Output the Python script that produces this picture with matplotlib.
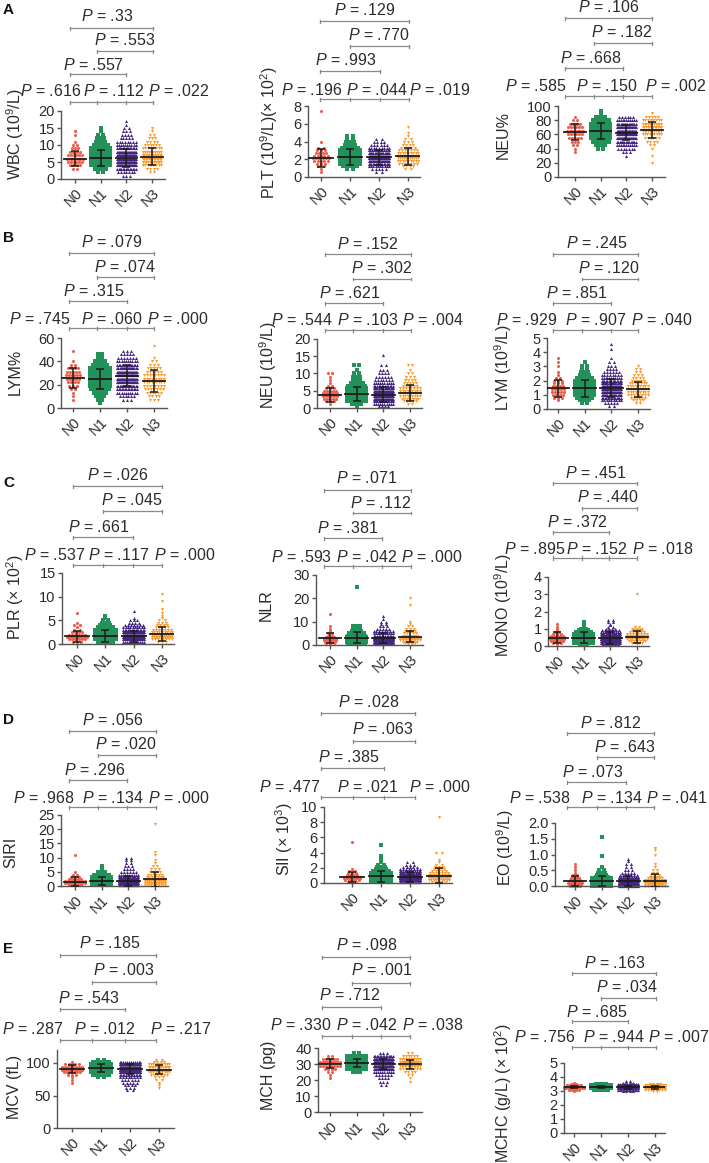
import numpy as np
import matplotlib.pyplot as plt

plt.rcParams['font.family'] = ['Liberation Sans', 'DejaVu Sans']
plt.rcParams['mathtext.fontset'] = 'custom'
plt.rcParams['mathtext.rm'] = 'Liberation Sans'
plt.rcParams['mathtext.it'] = 'Liberation Sans:italic'

W, H = 709, 1163

groups = ['N0', 'N1', 'N2', 'N3']
colors = ['#ee5e4b', '#23925a', '#45267f', '#f99b2f']
markers = ['o', 's', '^', 'v']

# ---- data: value levels and number of dots per level ----
wbc_lv = [1, 2, 3, 4, 5, 6, 7, 8, 9, 10, 11, 12, 13, 14, 15, 16, 17]
wbc_n0 = [0, 0, 2, 4, 6, 7, 6, 4, 3, 2, 1, 0, 1, 1, 0, 0, 0]
wbc_n1 = [0, 2, 5, 9, 14, 16, 14, 10, 8, 6, 4, 3, 2, 1, 1, 0, 0]
wbc_n2 = [3, 7, 14, 22, 28, 30, 26, 20, 14, 10, 8, 5, 4, 3, 2, 1, 1]
wbc_n3 = [0, 2, 4, 8, 11, 13, 12, 10, 8, 6, 4, 3, 2, 1, 1, 0, 0]
wbc_mean = [6.0, 6.2, 6.1, 6.6]
wbc_sd = [2.3, 2.3, 2.7, 2.5]
wbc_p = ['.33', '.553', '.557', '.616', '.112', '.022']

plt_lv = [0.6, 0.9, 1.2, 1.5, 1.8, 2.1, 2.4, 2.7, 3.0, 3.3, 3.6, 4.0, 4.3, 4.6, 5.0, 5.6, 7.4]
plt_n0 = [1, 1, 2, 3, 5, 6, 5, 4, 3, 2, 0, 1, 0, 0, 0, 0, 1]
plt_n1 = [0, 2, 5, 8, 11, 13, 12, 10, 8, 6, 4, 3, 2, 2, 0, 0, 0]
plt_n2 = [2, 5, 10, 16, 22, 24, 22, 18, 13, 9, 6, 4, 2, 0, 0, 0, 0]
plt_n3 = [0, 2, 4, 7, 9, 11, 10, 9, 7, 5, 4, 3, 2, 1, 1, 1, 0]
plt_mean = [2.15, 2.3, 2.2, 2.35]
plt_sd = [1.0, 0.9, 0.85, 0.95]
plt_p = ['.129', '.770', '.993', '.196', '.044', '.019']

neup_lv = [20, 25, 30, 35, 40, 45, 50, 55, 60, 65, 70, 75, 80, 85, 90, 93]
neup_n0 = [0, 0, 0, 1, 1, 2, 3, 5, 6, 7, 6, 4, 2, 1, 0, 0]
neup_n1 = [0, 0, 0, 0, 2, 4, 7, 10, 13, 14, 13, 10, 7, 4, 1, 1]
neup_n2 = [0, 0, 1, 3, 7, 11, 16, 21, 24, 25, 22, 17, 11, 6, 0, 0]
neup_n3 = [1, 0, 1, 0, 1, 2, 4, 6, 9, 11, 12, 11, 8, 5, 1, 0]
neup_mean = [63.5, 64.5, 62.5, 66.5]
neup_sd = [11, 11, 10.5, 11]
neup_p = ['.106', '.182', '.668', '.585', '.150', '.002']

lymp_lv = [4, 7, 10, 13, 16, 19, 22, 25, 28, 31, 34, 37, 40, 43, 46, 49, 53]
lymp_n0 = [0, 1, 1, 1, 2, 3, 4, 5, 6, 5, 4, 2, 1, 0, 0, 1, 0]
lymp_n1 = [1, 2, 3, 5, 7, 9, 11, 12, 11, 10, 8, 6, 4, 2, 2, 0, 0]
lymp_n2 = [0, 3, 6, 10, 14, 18, 22, 24, 24, 22, 18, 14, 10, 7, 5, 3, 0]
lymp_n3 = [0, 3, 4, 6, 7, 8, 9, 9, 8, 6, 5, 3, 2, 1, 0, 0, 1]
lymp_mean = [25.7, 25.0, 27.5, 23.2]
lymp_sd = [8.5, 8.8, 9.0, 9.3]
lymp_p = ['.079', '.074', '.315', '.745', '.060', '.000']

neu_lv = [0.5, 1.25, 2, 2.75, 3.5, 4.25, 5, 5.75, 6.5, 7.25, 8, 9, 10, 11, 12.5, 15.5]
neu_n0 = [0, 1, 3, 5, 6, 6, 5, 3, 2, 1, 1, 1, 2, 0, 0, 0]
neu_n1 = [1, 4, 8, 11, 13, 13, 11, 9, 7, 5, 3, 3, 2, 1, 2, 0]
neu_n2 = [4, 10, 17, 22, 25, 24, 21, 17, 13, 10, 7, 6, 4, 3, 2, 1]
neu_n3 = [0, 2, 5, 7, 9, 10, 9, 8, 6, 5, 4, 3, 2, 1, 2, 0]
neu_mean = [3.8, 4.1, 3.9, 4.3]
neu_sd = [2.0, 2.1, 2.2, 2.3]
neu_p = ['.152', '.302', '.621', '.544', '.103', '.004']

lym_lv = [0.2, 0.4, 0.6, 0.8, 1.0, 1.2, 1.4, 1.6, 1.8, 2.0, 2.2, 2.4, 2.6, 2.8, 3.0, 3.3, 3.6, 4.2, 4.6]
lym_n0 = [0, 0, 1, 3, 4, 5, 5, 4, 3, 3, 2, 1, 1, 0, 1, 1, 1, 0, 0]
lym_n1 = [0, 2, 4, 6, 8, 10, 11, 11, 10, 8, 6, 4, 3, 2, 2, 1, 0, 0, 0]
lym_n2 = [2, 5, 9, 14, 18, 21, 22, 21, 18, 15, 11, 8, 6, 4, 3, 2, 1, 1, 1]
lym_n3 = [0, 2, 4, 6, 8, 9, 10, 9, 7, 5, 4, 3, 2, 2, 1, 0, 0, 0, 0]
lym_mean = [1.45, 1.45, 1.47, 1.38]
lym_sd = [0.62, 0.6, 0.62, 0.52]
lym_p = ['.245', '.120', '.851', '.929', '.907', '.040']

plr_lv = [0.5, 1.0, 1.5, 2.0, 2.5, 3.0, 3.5, 4.0, 4.5, 5.0, 5.5, 6.0, 6.5, 7.0, 7.5, 9.0, 10.5]
plr_n0 = [3, 6, 8, 6, 4, 2, 1, 2, 1, 0, 0, 0, 1, 0, 0, 0, 0]
plr_n1 = [6, 14, 18, 16, 12, 8, 6, 4, 3, 2, 1, 1, 0, 0, 0, 0, 0]
plr_n2 = [12, 28, 36, 32, 24, 16, 10, 7, 4, 3, 1, 0, 0, 1, 0, 0, 0]
plr_n3 = [3, 8, 12, 11, 9, 7, 5, 4, 3, 2, 1, 1, 1, 0, 1, 1, 1]
plr_mean = [1.6, 1.75, 1.6, 2.05]
plr_sd = [1.15, 1.25, 1.25, 1.45]
plr_p = ['.026', '.045', '.661', '.537', '.117', '.000']

nlr_lv = [0.5, 1, 1.5, 2, 2.5, 3, 3.5, 4, 5, 6, 7, 8, 9, 10, 11, 12.5, 13.5, 17, 20, 25]
nlr_n0 = [1, 3, 4, 5, 5, 4, 3, 2, 2, 1, 1, 1, 0, 0, 0, 0, 1, 0, 0, 0]
nlr_n1 = [3, 7, 10, 12, 12, 10, 8, 7, 6, 4, 3, 3, 0, 0, 0, 0, 0, 0, 0, 1]
nlr_n2 = [6, 14, 20, 24, 24, 20, 16, 13, 11, 8, 5, 3, 2, 2, 1, 1, 0, 0, 0, 0]
nlr_n3 = [2, 4, 6, 8, 9, 8, 7, 6, 5, 4, 3, 2, 1, 1, 0, 0, 0, 1, 1, 0]
nlr_mean = [2.9, 3.1, 2.9, 3.6]
nlr_sd = [2.1, 2.3, 2.1, 2.5]
nlr_p = ['.071', '.112', '.381', '.593', '.042', '.000']

mono_lv = [0.1, 0.2, 0.3, 0.4, 0.5, 0.6, 0.7, 0.8, 0.9, 1.0, 1.1, 1.2, 1.3, 1.4, 1.5, 3.0]
mono_n0 = [1, 3, 5, 6, 6, 5, 3, 2, 1, 1, 1, 0, 1, 0, 0, 0]
mono_n1 = [3, 8, 12, 14, 14, 12, 9, 6, 4, 2, 1, 1, 1, 1, 0, 0]
mono_n2 = [6, 16, 24, 28, 28, 24, 17, 11, 7, 4, 2, 1, 1, 2, 2, 0]
mono_n3 = [1, 4, 7, 9, 10, 9, 8, 6, 4, 3, 2, 0, 0, 0, 0, 1]
mono_mean = [0.47, 0.48, 0.46, 0.52]
mono_sd = [0.32, 0.31, 0.33, 0.35]
mono_p = ['.451', '.440', '.372', '.895', '.152', '.018']

siri_lv = [0.5, 1.2, 1.9, 2.6, 3.3, 4, 5, 6, 7, 8, 9, 10, 11, 12, 22]
siri_n0 = [5, 9, 8, 5, 3, 2, 1, 0, 0, 0, 0, 0, 1, 0, 0]
siri_n1 = [14, 22, 18, 13, 9, 6, 3, 1, 1, 0, 0, 0, 0, 0, 0]
siri_n2 = [28, 40, 34, 24, 16, 10, 6, 4, 3, 2, 2, 2, 0, 0, 0]
siri_n3 = [8, 12, 11, 9, 7, 6, 4, 3, 2, 1, 1, 0, 1, 1, 1]
siri_mean = [1.5, 1.7, 1.75, 2.4]
siri_sd = [1.6, 1.5, 1.7, 2.6]
siri_p = ['.056', '.020', '.296', '.968', '.134', '.000']

sii_lv = [0.1, 0.35, 0.6, 0.85, 1.1, 1.35, 1.6, 1.85, 2.1, 2.4, 2.7, 3.0, 3.6, 3.9, 5.0, 5.4, 8.7]
sii_n0 = [3, 5, 6, 6, 4, 3, 2, 1, 0, 0, 0, 0, 0, 0, 0, 1, 0]
sii_n1 = [8, 14, 16, 15, 12, 9, 6, 4, 3, 2, 1, 1, 1, 0, 1, 0, 0]
sii_n2 = [16, 28, 34, 32, 26, 18, 12, 8, 5, 3, 2, 0, 0, 0, 0, 0, 0]
sii_n3 = [5, 9, 11, 11, 9, 7, 5, 4, 3, 2, 1, 1, 0, 2, 0, 0, 1]
sii_mean = [0.8, 0.88, 0.8, 0.98]
sii_sd = [0.65, 0.72, 0.62, 0.95]
sii_p = ['.028', '.063', '.385', '.477', '.021', '.000']

eo_lv = [0.0, 0.05, 0.1, 0.15, 0.2, 0.25, 0.3, 0.35, 0.4, 0.5, 0.6, 0.7, 0.8, 0.85, 0.95, 1.0, 1.15, 1.2, 1.55]
eo_n0 = [4, 5, 6, 5, 4, 3, 2, 2, 1, 1, 1, 1, 0, 0, 0, 0, 0, 0, 0]
eo_n1 = [12, 14, 15, 13, 10, 8, 5, 4, 3, 2, 1, 0, 0, 0, 1, 0, 0, 0, 1]
eo_n2 = [22, 28, 30, 26, 21, 15, 10, 7, 5, 3, 2, 2, 1, 1, 0, 0, 0, 0, 0]
eo_n3 = [8, 10, 11, 10, 8, 6, 4, 3, 2, 2, 1, 1, 0, 0, 0, 1, 1, 1, 0]
eo_mean = [0.16, 0.16, 0.16, 0.17]
eo_sd = [0.15, 0.16, 0.16, 0.2]
eo_p = ['.812', '.643', '.073', '.538', '.134', '.041']

mcv_lv = [58, 62, 66, 70, 74, 78, 82, 86, 90, 94, 98, 102, 105]
mcv_n0 = [0, 0, 0, 1, 1, 1, 3, 6, 9, 8, 5, 1, 0]
mcv_n1 = [0, 0, 0, 0, 0, 2, 6, 14, 22, 24, 16, 6, 2]
mcv_n2 = [2, 3, 4, 5, 6, 8, 14, 24, 32, 34, 26, 12, 0]
mcv_n3 = [0, 1, 1, 1, 2, 3, 6, 10, 14, 14, 10, 4, 2]
mcv_mean = [90.8, 92.3, 90.5, 89.8]
mcv_sd = [6.8, 6.0, 7.5, 6.8]
mcv_p = ['.185', '.003', '.543', '.287', '.012', '.217']

mch_lv = [17, 19, 21, 23, 25, 27, 29, 31, 33, 35, 37]
mch_n0 = [0, 0, 1, 1, 2, 4, 8, 10, 6, 2, 0]
mch_n1 = [0, 0, 0, 0, 3, 8, 18, 26, 22, 12, 2]
mch_n2 = [2, 3, 4, 6, 10, 20, 36, 44, 32, 14, 3]
mch_n3 = [0, 1, 1, 2, 4, 8, 14, 18, 12, 6, 2]
mch_mean = [30.3, 30.6, 29.8, 29.7]
mch_sd = [2.8, 2.4, 3.2, 3.0]
mch_p = ['.098', '.001', '.712', '.330', '.042', '.038']

mchc_lv = [3.0, 3.1, 3.2, 3.3, 3.4, 3.5, 3.6, 3.7]
mchc_n0 = [1, 4, 10, 12, 6, 2, 1, 0]
mchc_n1 = [0, 6, 24, 38, 18, 4, 0, 0]
mchc_n2 = [4, 14, 44, 60, 34, 12, 4, 2]
mchc_n3 = [2, 8, 18, 24, 12, 4, 0, 0]
mchc_mean = [3.28, 3.27, 3.27, 3.26]
mchc_sd = [0.1, 0.08, 0.11, 0.1]
mchc_p = ['.163', '.034', '.685', '.756', '.944', '.007']

# ---- layout (pixel positions in the 709x1163 picture) ----
# box = (left, top, right, bottom) of the plotting area, groups = x of N0 and N3
# brk = x of bracket anchors, lines = y of the 4 bracket rows
# txt = (x, y) of the 3 upper P values, bot = (x1, x2, x3, y) of the lower row
panels = [
    dict(lv=wbc_lv, cnt=[wbc_n0, wbc_n1, wbc_n2, wbc_n3], mean=wbc_mean, sd=wbc_sd, p=wbc_p,
         ylabel='WBC (10$^9$/L)', yt=[0, 5, 10, 15, 20], box=(61, 111, 165, 179), groups=(75, 152),
         brk=(70, 97, 126, 153), lines=(28, 51, 74, 102), txt=((107, 16), (125, 40), (94, 65)),
         bot=(51, 114, 179, 91), lab=(15, 134)),
    dict(lv=plt_lv, cnt=[plt_n0, plt_n1, plt_n2, plt_n3], mean=plt_mean, sd=plt_sd, p=plt_p,
         ylabel='PLT (10$^9$/L)(× 10$^2$)', yt=[0, 2, 4, 6, 8], box=(308, 106, 420, 177), groups=(321, 408),
         brk=(320, 350, 380, 409), lines=(21, 46, 71, 99), txt=((365, 10), (379, 35), (346, 60)),
         bot=(312, 377, 440, 90), lab=(269, 133)),
    dict(lv=neup_lv, cnt=[neup_n0, neup_n1, neup_n2, neup_n3], mean=neup_mean, sd=neup_sd, p=neup_p,
         ylabel='NEU%', yt=[0, 20, 40, 60, 80, 100], box=(558, 106, 665, 177), groups=(575, 652),
         brk=(565, 594, 623, 652), lines=(18, 43, 68, 96), txt=((609, 7), (622, 32), (591, 58)),
         bot=(536, 607, 676, 86), lab=(503, 135)),
    dict(lv=lymp_lv, cnt=[lymp_n0, lymp_n1, lymp_n2, lymp_n3], mean=lymp_mean, sd=lymp_sd, p=lymp_p,
         ylabel='LYM%', yt=[0, 20, 40, 60], box=(61, 338, 167, 408), groups=(73, 154),
         brk=(69, 97, 127, 154), lines=(253, 277, 301, 328), txt=((112, 242), (125, 267), (94, 291)),
         bot=(40, 112, 178, 319), lab=(15, 372)),
    dict(lv=neu_lv, cnt=[neu_n0, neu_n1, neu_n2, neu_n3], mean=neu_mean, sd=neu_sd, p=neu_p,
         ylabel='NEU (10$^9$/L)', yt=[0, 5, 10, 15, 20], box=(317, 339, 422, 408), groups=(330, 410),
         brk=(325, 353, 383, 411), lines=(254, 279, 303, 330), txt=((368, 244), (382, 268), (350, 293)),
         bot=(302, 368, 433, 320), lab=(268, 365)),
    dict(lv=lym_lv, cnt=[lym_n0, lym_n1, lym_n2, lym_n3], mean=lym_mean, sd=lym_sd, p=lym_p,
         ylabel='LYM (10$^9$/L)', yt=[0, 1, 2, 3, 4, 5], box=(547, 338, 650, 409), groups=(558, 638),
         brk=(553, 582, 611, 638), lines=(254, 279, 303, 330), txt=((597, 243), (609, 268), (577, 293)),
         bot=(527, 596, 662, 320), lab=(503, 367)),
    dict(lv=plr_lv, cnt=[plr_n0, plr_n1, plr_n2, plr_n3], mean=plr_mean, sd=plr_sd, p=plr_p,
         ylabel='PLR (× 10$^2$)', yt=[0, 5, 10, 15], box=(62, 573, 174, 644), groups=(77, 162),
         brk=(73, 103, 133, 162), lines=(486, 511, 537, 565), txt=((118, 475), (132, 500), (99, 527)),
         bot=(55, 119, 185, 555), lab=(15, 597)),
    dict(lv=nlr_lv, cnt=[nlr_n0, nlr_n1, nlr_n2, nlr_n3], mean=nlr_mean, sd=nlr_sd, p=nlr_p,
         ylabel='NLR', yt=[0, 10, 20, 30], box=(316, 575, 423, 645), groups=(330, 410),
         brk=(324, 353, 382, 411), lines=(490, 513, 538, 566), txt=((367, 478), (381, 503), (348, 528)),
         bot=(302, 367, 432, 557), lab=(266, 605)),
    dict(lv=mono_lv, cnt=[mono_n0, mono_n1, mono_n2, mono_n3], mean=mono_mean, sd=mono_sd, p=mono_p,
         ylabel='MONO (10$^9$/L)', yt=[0, 1, 2, 3, 4], box=(548, 577, 649, 646), groups=(557, 637),
         brk=(553, 582, 609, 637), lines=(483, 508, 532, 558), txt=((596, 473), (608, 497), (577, 522)),
         bot=(535, 597, 663, 549), lab=(503, 605)),
    dict(lv=siri_lv, cnt=[siri_n0, siri_n1, siri_n2, siri_n3], mean=siri_mean, sd=siri_sd, p=siri_p,
         ylabel='SIRI', yt=[0, 5, 10, 15, 20, 25], box=(61, 815, 168, 886), groups=(75, 155),
         brk=(69, 98, 127, 156), lines=(731, 755, 780, 807), txt=((113, 720), (126, 744), (95, 770)),
         bot=(44, 113, 179, 798), lab=(11, 852)),
    dict(lv=sii_lv, cnt=[sii_n0, sii_n1, sii_n2, sii_n3], mean=sii_mean, sd=sii_sd, p=sii_p,
         ylabel='SII (× 10$^3$)', yt=[0, 2, 4, 6, 8, 10], box=(324, 807, 452, 883), groups=(352, 439),
         brk=(321, 353, 384, 415), lines=(713, 741, 768, 797), txt=((369, 702), (383, 729), (349, 757)),
         bot=(290, 368, 440, 787), lab=(284, 839)),
    dict(lv=eo_lv, cnt=[eo_n0, eo_n1, eo_n2, eo_n3], mean=eo_mean, sd=eo_sd, p=eo_p,
         ylabel='EO (10$^9$/L)', yt=[0.0, 0.5, 1.0, 1.5, 2.0], box=(555, 823, 668, 886), groups=(575, 655),
         brk=(567, 597, 626, 654), lines=(733, 757, 782, 807), txt=((611, 723), (625, 747), (593, 772)),
         bot=(540, 612, 677, 798), lab=(505, 847), fmt='%.1f'),
    dict(lv=mcv_lv, cnt=[mcv_n0, mcv_n1, mcv_n2, mcv_n3], mean=mcv_mean, sd=mcv_sd, p=mcv_p,
         ylabel='MCV (fL)', yt=[0, 50, 100], ytop=120, box=(57, 1050, 174, 1128), groups=(72, 159),
         brk=(60, 92, 125, 156), lines=(955, 982, 1009, 1040), txt=((110, 943), (124, 970), (89, 998)),
         bot=(33, 105, 181, 1029), lab=(15, 1087)),
    dict(lv=mch_lv, cnt=[mch_n0, mch_n1, mch_n2, mch_n3], mean=mch_mean, sd=mch_sd, p=mch_p,
         ylabel='MCH (pg)', yt=[0, 10, 20, 30, 40], box=(318, 1048, 422, 1112), groups=(330, 410),
         brk=(322, 352, 381, 410), lines=(957, 983, 1007, 1036), txt=((367, 945), (382, 970), (350, 995)),
         bot=(301, 367, 433, 1025), lab=(268, 1075)),
    dict(lv=mchc_lv, cnt=[mchc_n0, mchc_n1, mchc_n2, mchc_n3], mean=mchc_mean, sd=mchc_sd, p=mchc_p,
         ylabel='MCHC (g/L) (× 10$^2$)', yt=[0, 1, 2, 3, 4, 5], box=(564, 1063, 665, 1133), groups=(574, 655),
         brk=(572, 601, 628, 656), lines=(973, 998, 1021, 1047), txt=((615, 963), (627, 987), (597, 1012)),
         bot=(545, 614, 679, 1037), lab=(503, 1093)),
]

letters = [('A', 10), ('B', 238), ('C', 483), ('D', 720), ('E', 949)]


def fx(px):
    return px / W


def fy(py):
    return 1 - py / H


fig = plt.figure(figsize=(W / 100, H / 100), dpi=100)

txt_col = '#2b2b2b'
brk_col = '#8a8a8a'
P_SIZE = 11.5

for pan in panels:
    x0, yt, x1, yb = pan['box']
    g0, g3 = pan['groups']
    step = (g3 - g0) / 3
    ax = fig.add_axes([fx(x0), fy(yb), (x1 - x0) / W, (yb - yt) / H])
    ax.set_xlim((x0 - g0) / step, (x1 - g0) / step)
    ax.set_ylim(0, pan.get('ytop', pan['yt'][-1]))

    for i in range(4):
        xs, ys = [], []
        for v, c in zip(pan['lv'], pan['cnt'][i]):
            if c == 0:
                continue
            w = min(c * 0.09, 0.72)
            off = np.linspace(-w / 2, w / 2, c) if c > 1 else np.array([0.0])
            xs.extend(i + off)
            ys.extend([v] * c)
        ax.scatter(xs, ys, s=5, marker=markers[i], color=colors[i], linewidths=0,
                   clip_on=False, zorder=2)
        m, s = pan['mean'][i], pan['sd'][i]
        ax.plot([i - 0.42, i + 0.42], [m, m], color='#1c1c1c', lw=1.3, zorder=3)
        ax.errorbar(i, m, yerr=s, color='#1c1c1c', lw=1.1, capsize=3.2, capthick=1.1, zorder=3)

    for side in ['top', 'right']:
        ax.spines[side].set_visible(False)
    for side in ['left', 'bottom']:
        ax.spines[side].set_color('#555555')
        ax.spines[side].set_linewidth(1.0)
    ax.set_yticks(pan['yt'])
    if 'fmt' in pan:
        ax.set_yticklabels([pan['fmt'] % v for v in pan['yt']])
    ax.set_xticks(range(4))
    ax.set_xticklabels(groups, rotation=45, ha='right', va='top', rotation_mode='anchor')
    ax.tick_params(axis='both', colors='#555555', labelcolor=txt_col, length=3, width=1.0,
                   labelsize=10.5, pad=1.5)
    ax.tick_params(axis='x', labelsize=10.5, pad=2)

    # y label
    fig.text(fx(pan['lab'][0]), fy(pan['lab'][1]), pan['ylabel'], rotation=90,
             ha='center', va='center', fontsize=11.5, color=txt_col)

    # comparison brackets
    b = pan['brk']
    l1, l2, l3, l4 = pan['lines']
    spans = [(b[0], b[3], l1), (b[1], b[3], l2), (b[0], b[2], l3), (b[0], b[3], l4)]
    for xa, xb, yl in spans:
        fig.add_artist(plt.Line2D([fx(xa), fx(xb)], [fy(yl), fy(yl)], transform=fig.transFigure,
                                  color=brk_col, lw=0.9))
        for xe in (xa, xb):
            fig.add_artist(plt.Line2D([fx(xe), fx(xe)], [fy(yl - 1.5), fy(yl + 1.5)],
                                      transform=fig.transFigure, color=brk_col, lw=0.9))
    for xe in (b[1], b[2]):
        fig.add_artist(plt.Line2D([fx(xe), fx(xe)], [fy(l4 - 1.5), fy(l4 + 1.5)],
                                  transform=fig.transFigure, color=brk_col, lw=0.9))

    p = pan['p']
    for k in range(3):
        tx, ty = pan['txt'][k]
        fig.text(fx(tx), fy(ty), '$P$ = ' + p[k], ha='center', va='center',
                 fontsize=P_SIZE, color=txt_col)
    bx1, bx2, bx3, by = pan['bot']
    for k, bx in enumerate((bx1, bx2, bx3)):
        fig.text(fx(bx), fy(by), '$P$ = ' + p[3 + k], ha='center', va='center',
                 fontsize=P_SIZE, color=txt_col)

for letter, ly in letters:
    fig.text(fx(3), fy(ly), letter, fontsize=11, fontweight='bold', va='center', ha='left',
             color='#111111')

fig.savefig('out.png', dpi=100)
